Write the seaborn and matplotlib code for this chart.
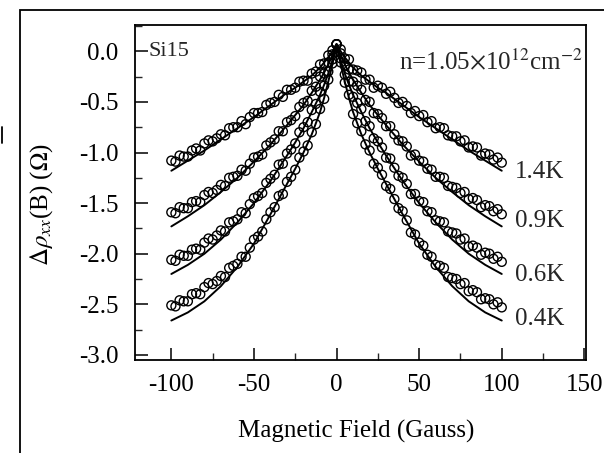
import numpy as np
import pandas as pd
import matplotlib
matplotlib.use("Agg")
import matplotlib.pyplot as plt
from matplotlib.patches import Rectangle
from matplotlib.lines import Line2D
from matplotlib.ticker import MultipleLocator, FormatStrFormatter
import seaborn as sns

# ---------------- data ----------------
temperatures = ["1.4K", "0.9K", "0.6K", "0.4K"]

field_pts = [-100, -97.5, -95, -92.5, -90, -87.5, -85, -82.5, -80, -77.5,
             -75, -72.5, -70, -67.5, -65, -62.5, -60, -57.5, -55, -52.5,
             -50, -47.5, -45, -42.5, -40, -37.5, -35, -32.5, -30, -27.5,
             -25, -22.5, -20, -17.5, -15, -12.5, -10, -7.5, -5, -2.5,
             0, 2.5, 5, 7.5, 10, 12.5, 15, 17.5, 20, 22.5,
             25, 27.5, 30, 32.5, 35, 37.5, 40, 42.5, 45, 47.5,
             50, 52.5, 55, 57.5, 60, 62.5, 65, 67.5, 70, 72.5,
             75, 77.5, 80, 82.5, 85, 87.5, 90, 92.5, 95, 97.5, 100]

rho_14K = [-1.08, -1.09, -1.03, -1.04, -1.04, -0.98, -0.96, -0.98, -0.91, -0.88,
           -0.89, -0.86, -0.82, -0.83, -0.76, -0.75, -0.75, -0.69, -0.72, -0.65,
           -0.61, -0.61, -0.60, -0.53, -0.51, -0.50, -0.43, -0.45, -0.38, -0.38,
           -0.36, -0.30, -0.29, -0.29, -0.22, -0.20, -0.13, -0.12, -0.04, 0.01,
           0.07, 0.02, -0.07, -0.08, -0.18, -0.19, -0.21, -0.28, -0.28, -0.36,
           -0.34, -0.36, -0.42, -0.40, -0.46, -0.51, -0.50, -0.54, -0.61, -0.59,
           -0.64, -0.63, -0.70, -0.69, -0.76, -0.75, -0.76, -0.83, -0.84, -0.84,
           -0.89, -0.88, -0.95, -0.94, -0.95, -1.03, -1.01, -1.02, -1.07, -1.05, -1.10]

rho_09K = [-1.59, -1.60, -1.54, -1.55, -1.55, -1.49, -1.48, -1.49, -1.42, -1.39,
           -1.40, -1.37, -1.32, -1.33, -1.25, -1.24, -1.23, -1.17, -1.18, -1.11,
           -1.05, -1.04, -1.02, -0.93, -0.90, -0.87, -0.79, -0.79, -0.70, -0.68,
           -0.64, -0.55, -0.51, -0.49, -0.39, -0.35, -0.25, -0.22, -0.11, -0.03,
           0.07, -0.02, -0.14, -0.18, -0.30, -0.34, -0.38, -0.48, -0.50, -0.61,
           -0.62, -0.66, -0.74, -0.74, -0.82, -0.88, -0.89, -0.94, -1.03, -1.02,
           -1.08, -1.09, -1.16, -1.17, -1.24, -1.24, -1.25, -1.33, -1.34, -1.35,
           -1.40, -1.39, -1.46, -1.45, -1.47, -1.54, -1.52, -1.53, -1.58, -1.56, -1.61]

rho_06K = [-2.06, -2.07, -2.01, -2.02, -2.02, -1.96, -1.95, -1.96, -1.89, -1.85,
           -1.86, -1.82, -1.77, -1.78, -1.69, -1.68, -1.66, -1.59, -1.60, -1.51,
           -1.45, -1.43, -1.40, -1.30, -1.26, -1.22, -1.12, -1.11, -1.01, -0.97,
           -0.91, -0.80, -0.75, -0.70, -0.58, -0.52, -0.40, -0.34, -0.20, -0.08,
           0.07, -0.07, -0.23, -0.30, -0.45, -0.51, -0.57, -0.69, -0.74, -0.86,
           -0.89, -0.95, -1.05, -1.06, -1.15, -1.23, -1.25, -1.31, -1.41, -1.41,
           -1.48, -1.49, -1.58, -1.59, -1.67, -1.68, -1.69, -1.78, -1.79, -1.80,
           -1.86, -1.85, -1.93, -1.92, -1.94, -2.01, -1.99, -2.00, -2.05, -2.03, -2.08]

rho_04K = [-2.51, -2.52, -2.46, -2.47, -2.47, -2.40, -2.39, -2.40, -2.33, -2.29,
           -2.30, -2.27, -2.22, -2.23, -2.14, -2.12, -2.10, -2.03, -2.03, -1.94,
           -1.86, -1.83, -1.78, -1.66, -1.59, -1.54, -1.43, -1.41, -1.29, -1.24,
           -1.17, -1.05, -0.99, -0.93, -0.80, -0.72, -0.57, -0.47, -0.28, -0.12,
           0.07, -0.11, -0.31, -0.43, -0.62, -0.71, -0.79, -0.92, -0.98, -1.11,
           -1.15, -1.22, -1.33, -1.36, -1.46, -1.55, -1.58, -1.67, -1.79, -1.81,
           -1.89, -1.92, -2.01, -2.03, -2.11, -2.12, -2.14, -2.23, -2.24, -2.25,
           -2.30, -2.29, -2.37, -2.36, -2.38, -2.45, -2.44, -2.45, -2.50, -2.48, -2.53]

field_fit = [-100, -90, -80, -70, -60, -50, -40, -30, -25, -20, -15, -10, -7.5, -5, -2.5,
             0, 2.5, 5, 7.5, 10, 15, 20, 25, 30, 40, 50, 60, 70, 80, 90, 100]

fit_14K = [-1.18, -1.08, -0.98, -0.87, -0.76, -0.65, -0.53, -0.41, -0.36, -0.30, -0.24, -0.16, -0.11, -0.06, 0.00,
           0.07, 0.00, -0.06, -0.11, -0.16, -0.24, -0.30, -0.36, -0.41, -0.53, -0.65, -0.76, -0.87, -0.98, -1.08, -1.18]
fit_09K = [-1.73, -1.63, -1.52, -1.39, -1.25, -1.09, -0.92, -0.73, -0.63, -0.53, -0.41, -0.28, -0.21, -0.13, -0.04,
           0.07, -0.04, -0.13, -0.21, -0.28, -0.41, -0.53, -0.63, -0.73, -0.92, -1.09, -1.25, -1.39, -1.52, -1.63, -1.73]
fit_06K = [-2.20, -2.11, -2.00, -1.86, -1.69, -1.50, -1.28, -1.03, -0.90, -0.76, -0.60, -0.43, -0.33, -0.22, -0.09,
           0.07, -0.09, -0.22, -0.33, -0.43, -0.60, -0.76, -0.90, -1.03, -1.28, -1.50, -1.69, -1.86, -2.00, -2.11, -2.20]
fit_04K = [-2.66, -2.58, -2.47, -2.32, -2.13, -1.90, -1.61, -1.31, -1.16, -1.00, -0.82, -0.60, -0.46, -0.30, -0.13,
           0.07, -0.13, -0.30, -0.46, -0.60, -0.82, -1.00, -1.16, -1.31, -1.61, -1.90, -2.13, -2.32, -2.47, -2.58, -2.66]

label_y = [-1.19, -1.68, -2.21, -2.64]

xticks = [-100, -50, 0, 50, 100, 150]
yticks = [-3.0, -2.5, -2.0, -1.5, -1.0, -0.5, 0.0]

# ---------------- tables ----------------
pts_series = [rho_14K, rho_09K, rho_06K, rho_04K]
fit_series = [fit_14K, fit_09K, fit_06K, fit_04K]
df_pts = pd.concat([pd.DataFrame({"B": field_pts, "rho": r, "T": t})
                    for r, t in zip(pts_series, temperatures)], ignore_index=True)
df_fit = pd.concat([pd.DataFrame({"B": field_fit, "rho": r, "T": t})
                    for r, t in zip(fit_series, temperatures)], ignore_index=True)

# ---------------- style ----------------
sns.set_theme(style="ticks")
plt.rcParams["font.family"] = ["Liberation Serif", "DejaVu Serif"]
plt.rcParams["mathtext.fontset"] = "stix"
plt.rcParams["axes.unicode_minus"] = False

FS = 18

fig = plt.figure(figsize=(6.04, 4.53), dpi=100)
fig.patch.set_facecolor("white")
ax = fig.add_axes([135 / 604, 1 - 360 / 453, 451 / 604, 335 / 453])
ax.set_facecolor("white")

sns.scatterplot(data=df_pts, x="B", y="rho", ax=ax, marker="o", s=42,
                facecolor="none", edgecolor="black", linewidth=1.0,
                legend=False, zorder=2)
sns.lineplot(data=df_fit, x="B", y="rho", units="T", estimator=None, sort=False,
             ax=ax, color="black", linewidth=1.4, legend=False, zorder=3)

ax.set_xlim(-122, 151)
ax.set_ylim(-3.05, 0.26)
ax.set_xticks(xticks)
ax.set_yticks(yticks)
ax.xaxis.set_minor_locator(MultipleLocator(25))
ax.yaxis.set_minor_locator(MultipleLocator(0.25))
ax.yaxis.set_major_formatter(FormatStrFormatter("%.1f"))
ax.tick_params(which="major", direction="in", length=9, width=1.1,
               labelsize=FS, colors="black")
ax.tick_params(axis="x", which="major", pad=10)
ax.tick_params(axis="y", which="major", pad=12)
ax.tick_params(which="minor", direction="in", length=5, width=1.0)
for s in ax.spines.values():
    s.set_linewidth(1.3)
    s.set_color("black")

ax.set_xlabel("Magnetic Field (Gauss)", fontsize=FS, color="black")
ax.set_ylabel(r"$\Delta\rho_{xx}$(B) ($\Omega$)", fontsize=FS, color="black")
ax.xaxis.set_label_coords(0.49, -0.18)
ax.yaxis.set_label_coords(-0.177, 0.463)

ax.text(-114, 0.0, "Si15", fontsize=16, va="center", ha="left")
ax.text(149, -0.1, r"n=1.05$\times$10$^{12}$cm$^{-2}$", fontsize=FS,
        va="center", ha="right")
for t, yv in zip(temperatures, label_y):
    ax.text(108, yv, t, fontsize=FS, va="center", ha="left")

# outer frame of the scanned figure
fig.add_artist(Rectangle((20 / 604, -0.1), 1.0, 1.1 - 10 / 453,
                         transform=fig.transFigure, fill=False,
                         linewidth=1.3, edgecolor="black"))
fig.add_artist(Line2D([2 / 604, 2 / 604], [1 - 127 / 453, 1 - 143 / 453],
                      transform=fig.transFigure, color="black", linewidth=1.3))

fig.savefig("out.png", dpi=100)
